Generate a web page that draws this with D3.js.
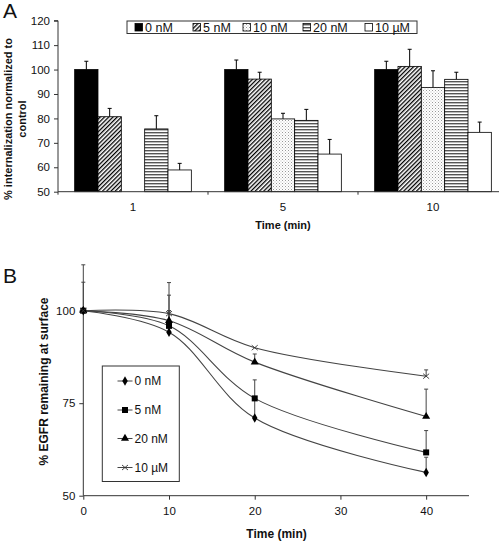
<!DOCTYPE html>
<html><head><meta charset="utf-8">
<script src="https://cdn.jsdelivr.net/npm/d3@7"></script>
<style>body{margin:0;background:#fff}svg{display:block;font-family:Arial,"Liberation Sans",sans-serif}</style>
</head><body><svg id="c" width="499" height="543"></svg>
<script>
// ---------- Panel A data ----------
const timesA = ["1", "5", "10"];
const seriesA = ["0 nM", "5 nM", "10 nM", "20 nM", "10 µM"];
const valuesA = [
  [100, 80.7, null, 75.7, 58.9],
  [100, 96.1, 79.8, 79.2, 65.4],
  [100, 101.3, 92.7, 96.0, 74.3]
];
const errTopA = [
  [103.4, 84.1, null, 81.1, 61.6],
  [103.9, 98.9, 82.1, 83.7, 71.4],
  [103.4, 108.3, 99.5, 98.9, 78.5]
];
const yTicksA = [50, 60, 70, 80, 90, 100, 110, 120];

// ---------- Panel B data ----------
const timesB = [0, 10, 20, 40];
const seriesB = ["0 nM", "5 nM", "20 nM", "10 µM"];
const valuesB = [
  [100, 94.2, 71.0, 56.3],
  [100, 95.9, 76.3, 61.7],
  [100, 97.3, 86.1, 71.4],
  [100, 99.2, 90.0, 82.3]
];
const errTopB = [
  [107.7, 104.2, 76.0, 60.4],
  [112.4, 107.6, 81.3, 67.6],
  [100, 100, 88.3, 78.8],
  [100, 100, 90.0, 84.0]
];
const xTicksB = [0, 10, 20, 30, 40];
const yTicksB = [50, 75, 100];

const svg = d3.select("#c");
const defs = svg.append("defs");
// patterns
const p5 = defs.append("pattern").attr("id","hatch").attr("patternUnits","userSpaceOnUse").attr("width",3).attr("height",3).attr("patternTransform","rotate(45)");
p5.append("rect").attr("width",3).attr("height",3).attr("fill","#fff");
p5.append("rect").attr("width",1.3).attr("height",3).attr("fill","#000");
const p10 = defs.append("pattern").attr("id","dots").attr("patternUnits","userSpaceOnUse").attr("width",3).attr("height",3);
p10.append("rect").attr("width",3).attr("height",3).attr("fill","#fff");
p10.append("rect").attr("x",0).attr("y",0).attr("width",1).attr("height",1).attr("fill","#999");
p10.append("rect").attr("x",1.5).attr("y",1.5).attr("width",1).attr("height",1).attr("fill","#bbb");
const p20 = defs.append("pattern").attr("id","hlines").attr("patternUnits","userSpaceOnUse").attr("width",4).attr("height",3);
p20.append("rect").attr("width",4).attr("height",3).attr("fill","#fff");
p20.append("rect").attr("width",4).attr("height",1.4).attr("fill","#555");
const fillsA = ["#000", "url(#hatch)", "url(#dots)", "url(#hlines)", "#fff"];

// ---------- Panel A ----------
const axA = {left: 58, right: 508, top: 20.7, bottom: 191.7};
const yA = d3.scaleLinear().domain([50, 120]).range([axA.bottom, axA.top]);
const x0 = d3.scaleBand().domain(timesA).range([axA.left, axA.right]);
const x1 = d3.scaleBand().domain(seriesA).range([0, x0.bandwidth()]).paddingOuter(0.714);

const gA = svg.append("g");
timesA.forEach((t, ti) => {
  seriesA.forEach((s, si) => {
    const v = valuesA[ti][si];
    if (v == null) return;
    const bx = x0(t) + x1(s);
    const cx = bx + x1.bandwidth() / 2;
    const et = errTopA[ti][si];
    gA.append("line").attr("x1", cx).attr("x2", cx).attr("y1", yA(v)).attr("y2", yA(et)).attr("stroke", "#000").attr("stroke-width", 1);
    gA.append("line").attr("x1", cx - 2).attr("x2", cx + 2).attr("y1", yA(et)).attr("y2", yA(et)).attr("stroke", "#000").attr("stroke-width", 1);
    gA.append("rect").attr("x", bx).attr("y", yA(v)).attr("width", x1.bandwidth()).attr("height", yA(50) - yA(v))
      .attr("fill", fillsA[si]).attr("stroke", "#000").attr("stroke-width", 0.8);
  });
});
// axes A
const yAxisA = d3.axisLeft(yA).tickValues(yTicksA).tickSize(4).tickPadding(4);
const gyA = svg.append("g").attr("transform", `translate(${axA.left},0)`).call(yAxisA);
gyA.selectAll("text").attr("font-size", 11.5).attr("font-family", "Arial,'Liberation Sans',sans-serif").attr("fill", "#111");
gyA.select(".domain").attr("d", `M-4,${axA.top}H0V${axA.bottom}`);
gyA.selectAll("line,path").attr("stroke", "#333");
svg.append("line").attr("x1", axA.left).attr("x2", axA.right).attr("y1", axA.bottom).attr("y2", axA.bottom).attr("stroke", "#333");
[0, 1, 2, 3].forEach(i => {
  const xx = axA.left + i * x0.step();
  svg.append("line").attr("x1", xx).attr("x2", xx).attr("y1", axA.bottom).attr("y2", axA.bottom + 3).attr("stroke", "#333");
});
timesA.forEach(t => {
  svg.append("text").attr("x", x0(t) + x0.bandwidth() / 2).attr("y", 211).attr("text-anchor", "middle").attr("font-size", 11.5).attr("fill", "#111").text(t);
});
svg.append("text").attr("x", 283).attr("y", 229).attr("text-anchor", "middle").attr("font-size", 11).attr("font-weight", "bold").attr("fill", "#111").text("Time (min)");
svg.append("text").attr("transform", "translate(12,119) rotate(-90)").attr("text-anchor", "middle").attr("font-size", 11).attr("font-weight", "bold").attr("fill", "#111").text("% internalization normalized to");
svg.append("text").attr("transform", "translate(26,119) rotate(-90)").attr("text-anchor", "middle").attr("font-size", 11).attr("font-weight", "bold").attr("fill", "#111").text("control");
svg.append("text").attr("x", 3).attr("y", 18).attr("font-size", 21).attr("fill", "#111").text("A");

// legend A
svg.append("rect").attr("x", 127).attr("y", 21).attr("width", 290).attr("height", 12.5).attr("fill", "#fff").attr("stroke", "#333").attr("stroke-width", 1);
const legXA = [135, 193, 243, 303, 365];
seriesA.forEach((s, i) => {
  svg.append("rect").attr("x", legXA[i]).attr("y", 23.5).attr("width", 7.5).attr("height", 7.5).attr("fill", fillsA[i]).attr("stroke", "#000").attr("stroke-width", 0.8);
  svg.append("text").attr("x", legXA[i] + 10).attr("y", 31.8).attr("font-size", 12.5).attr("fill", "#111").text(s);
});

// ---------- Panel B ----------
const axB = {left: 83.3, right: 469, top: 265, bottom: 495.7};
const xB = d3.scaleLinear().domain([0, 45]).range([axB.left, axB.right]);
const yB = d3.scaleLinear().domain([50, 100]).range([axB.bottom, 310.7]);
svg.append("text").attr("x", 3).attr("y", 283).attr("font-size", 21).attr("fill", "#111").text("B");

const gyB = svg.append("g").attr("transform", `translate(${axB.left},0)`).call(d3.axisLeft(yB).tickValues(yTicksB).tickSize(4).tickPadding(4));
gyB.select(".domain").attr("d", `M0,${yB(100)}V${axB.bottom}`);
gyB.selectAll("text").attr("font-size", 11.5).attr("font-family", "Arial,'Liberation Sans',sans-serif").attr("fill", "#111");
gyB.selectAll("line,path").attr("stroke", "#333");
const gxB = svg.append("g").attr("transform", `translate(0,${axB.bottom})`).call(d3.axisBottom(xB).tickValues(xTicksB).tickSize(4).tickPadding(7));
gxB.select(".domain").attr("d", `M${axB.left},0H${axB.right}`);
gxB.selectAll("text").attr("font-size", 11.5).attr("font-family", "Arial,'Liberation Sans',sans-serif").attr("fill", "#111");
gxB.selectAll("line,path").attr("stroke", "#333");
svg.append("text").attr("x", 276.5).attr("y", 538).attr("text-anchor", "middle").attr("font-size", 12).attr("font-weight", "bold").attr("fill", "#111").text("Time (min)");
svg.append("text").attr("transform", "translate(47.5,381.5) rotate(-90)").attr("text-anchor", "middle").attr("font-size", 12).attr("font-weight", "bold").attr("fill", "#111").text("% EGFR remaining at surface");

// error bars B
seriesB.forEach((s, si) => {
  timesB.forEach((t, ti) => {
    const v = valuesB[si][ti], e = errTopB[si][ti];
    if (e <= v) return;
    const cx = xB(t);
    svg.append("line").attr("x1", cx).attr("x2", cx).attr("y1", yB(v)).attr("y2", yB(e)).attr("stroke", "#444").attr("stroke-width", 1);
    svg.append("line").attr("x1", cx - 2).attr("x2", cx + 2).attr("y1", yB(e)).attr("y2", yB(e)).attr("stroke", "#444").attr("stroke-width", 1);
  });
});
const line = d3.line().x((d, i) => xB(timesB[i])).y(d => yB(d)).curve(d3.curveCatmullRom.alpha(0.5));
valuesB.forEach(vals => {
  svg.append("path").attr("d", line(vals)).attr("fill", "none").attr("stroke", "#444").attr("stroke-width", 1.1);
});
function marker(g, type, x, y) {
  if (type === 0) g.append("path").attr("d", d3.symbol(d3.symbolDiamond, 26)()).attr("transform", `translate(${x},${y})`).attr("fill", "#000");
  else if (type === 1) g.append("rect").attr("x", x - 3).attr("y", y - 3).attr("width", 6).attr("height", 6).attr("fill", "#000");
  else if (type === 2) g.append("path").attr("d", d3.symbol(d3.symbolTriangle, 28)()).attr("transform", `translate(${x},${y})`).attr("fill", "#000");
  else g.append("path").attr("d", `M${x-3},${y-2.5}L${x+3},${y+2.5}M${x-3},${y+2.5}L${x+3},${y-2.5}`).attr("stroke", "#333").attr("stroke-width", 0.9);
}
const gm = svg.append("g");
valuesB.forEach((vals, si) => vals.forEach((v, ti) => marker(gm, si, xB(timesB[ti]), yB(v))));

// legend B
svg.append("rect").attr("x", 102.3).attr("y", 366).attr("width", 77).attr("height", 115.5).attr("fill", "#fff").attr("stroke", "#333").attr("stroke-width", 1);
const legYB = [381, 410, 438.5, 467.5];
seriesB.forEach((s, i) => {
  svg.append("line").attr("x1", 117.5).attr("x2", 132.5).attr("y1", legYB[i]).attr("y2", legYB[i]).attr("stroke", "#444");
  marker(svg, i, 125, legYB[i]);
  svg.append("text").attr("x", 134.5).attr("y", legYB[i] + 4.3).attr("font-size", 12).attr("fill", "#111").text(s);
});
</script></body></html>
